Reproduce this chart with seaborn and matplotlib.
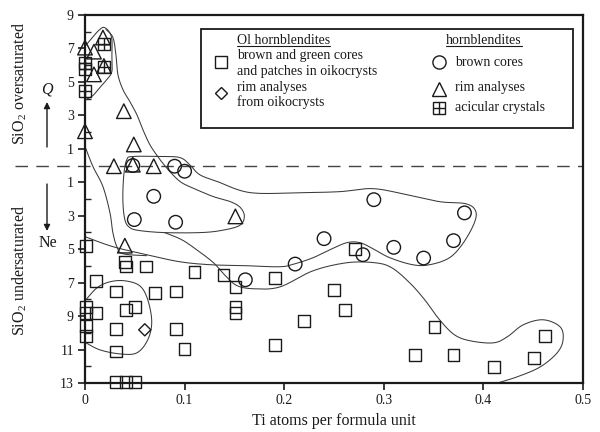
import numpy as np
import pandas as pd
import matplotlib
matplotlib.use("Agg")
import matplotlib.pyplot as plt
from matplotlib.patches import Rectangle
from matplotlib.lines import Line2D
import seaborn as sns

# ---------------------------------------------------------------------------
# Ti (atoms per formula unit) against silica saturation.
# Saturation is signed: Q (oversaturated) positive, Ne (undersaturated) negative.
# ---------------------------------------------------------------------------

# Ol hornblendites: brown and green cores and patches in oikocrysts (squares)
ol_core_ti = [0.001, 0.011, 0.031, 0.041, 0.040, 0.061, 0.070, 0.091, 0.041, 0.050,
              0.001, 0.011, 0.001, 0.001, 0.001, 0.031, 0.091, 0.100, 0.031, 0.031,
              0.041, 0.050, 0.110, 0.139, 0.151, 0.151, 0.151, 0.191, 0.191, 0.220,
              0.250, 0.261, 0.271, 0.331, 0.351, 0.370, 0.411, 0.451, 0.462]
ol_core_si = [-4.80, -6.90, -7.53, -6.03, -5.75, -6.03, -7.62, -7.53, -8.62, -8.46,
              -8.80, -8.80, -9.57, -10.20, -8.45, -9.76, -9.76, -10.96, -11.12, -12.95,
              -12.92, -12.95, -6.37, -6.53, -7.25, -8.44, -8.80, -6.71, -10.72, -9.28,
              -7.43, -8.62, -4.99, -11.32, -9.64, -11.32, -12.04, -11.50, -10.18]

# Ol hornblendites: rim analyses from oikocrysts (diamond)
ol_rim_ti = [0.060]
ol_rim_si = [-9.82]

# hornblendites: brown cores (circles)
hb_core_ti = [0.048, 0.090, 0.100, 0.069, 0.0495, 0.091, 0.240, 0.211, 0.161, 0.290,
              0.381, 0.370, 0.310, 0.340, 0.279]
hb_core_si = [0.00, -0.04, -0.34, -1.84, -3.23, -3.39, -4.37, -5.89, -6.83, -2.04,
              -2.83, -4.49, -4.89, -5.53, -5.33]

# hornblendites: rim analyses (triangles)
hb_rim_ti = [0.018, 0.000, 0.009, 0.019, 0.009, 0.039, 0.000, 0.049, 0.029, 0.069,
             0.048, 0.040, 0.151]
hb_rim_si = [7.65, 7.05, 6.81, 5.95, 5.45, 3.25, 2.05, 1.26, -0.04, -0.04,
             0.05, -4.79, -3.04]

# hornblendites: acicular crystals (crossed squares)
hb_acic_ti = [0.019, 0.019, 0.000, 0.000, 0.000]
hb_acic_si = [7.25, 5.89, 6.15, 5.75, 4.45]

# Hand-drawn field outlines (vertices in data units)
field_a_ti = [0.000, 0.010, 0.015, 0.019, 0.024, 0.027, 0.027, 0.027, 0.022, 0.015, 0.008, 0.001]
field_a_si = [7.13, 7.84, 8.14, 8.26, 8.02, 7.54, 6.65, 5.63, 5.15, 4.67, 4.19, 3.95]

field_b_ti = [0.021, 0.028, 0.031, 0.033, 0.038, 0.045, 0.052, 0.058, 0.065, 0.073,
              0.080, 0.087, 0.097, 0.112, 0.129, 0.146, 0.156, 0.160, 0.155, 0.136,
              0.115, 0.080, 0.055, 0.045, 0.040, 0.038, 0.039, 0.042, 0.048, 0.075,
              0.095, 0.105, 0.115, 0.133, 0.166, 0.216, 0.256, 0.289, 0.323, 0.356,
              0.382, 0.392, 0.391, 0.380, 0.366, 0.346, 0.329, 0.306, 0.289, 0.276,
              0.263, 0.246, 0.229, 0.211, 0.196, 0.163, 0.126, 0.095, 0.062, 0.028, 0.000]
field_b_si = [8.14, 7.66, 6.65, 5.45, 4.55, 3.83, 3.05, 2.16, 1.26, 0.54,
              0.00, -0.48, -1.02, -1.44, -1.86, -2.16, -2.51, -3.05, -3.59, -3.89,
              -4.01, -4.01, -3.89, -3.71, -3.23, -2.04, -0.54, 0.36, 0.54, 0.54,
              0.48, 0.06, -0.54, -0.96, -1.62, -1.62, -1.56, -1.38, -1.74, -2.16,
              -2.28, -2.69, -3.41, -4.61, -5.51, -5.93, -5.93, -5.51, -4.97, -4.61,
              -4.61, -5.03, -5.51, -5.87, -6.05, -5.99, -5.93, -5.75, -5.33, -4.85, -4.25]

field_c_ti = [0.080, 0.097, 0.112, 0.129, 0.141, 0.153, 0.171, 0.196, 0.229, 0.263,
              0.291, 0.308, 0.326, 0.341, 0.356, 0.371, 0.387, 0.410, 0.424, 0.440,
              0.460, 0.477, 0.480, 0.474, 0.457, 0.434, 0.414]
field_c_si = [-4.01, -4.43, -5.03, -5.81, -6.59, -7.19, -7.37, -7.25, -6.29, -5.81,
              -5.81, -6.11, -7.01, -8.02, -9.22, -10.12, -10.48, -10.60, -10.24, -9.52,
              -9.22, -9.64, -10.42, -11.20, -12.04, -12.63, -13.00]

field_d_ti = [0.000, 0.008, 0.018, 0.025, 0.028, 0.032, 0.038, 0.062]
field_d_si = [1.14, -0.06, -1.26, -2.81, -4.01, -4.85, -5.27, -5.39]

field_e_ti = [0.001, 0.012, 0.025, 0.040, 0.055, 0.063, 0.067, 0.063, 0.052, 0.035, 0.015, 0.001]
field_e_si = [-8.02, -7.31, -6.95, -6.89, -7.19, -8.02, -9.34, -10.42, -11.20, -11.26, -11.02, -10.60]

y_ticks = [9, 7, 5, 3, 1, -1, -3, -5, -7, -9, -11, -13]
y_tick_labels = [str(abs(v)) for v in y_ticks]
x_ticks = [0, 0.1, 0.2, 0.3, 0.4, 0.5]
x_tick_labels = ["0", "0.1", "0.2", "0.3", "0.4", "0.5"]


def smooth(xs, ys, n=14):
    """Catmull-Rom curve through the outline vertices."""
    p = np.column_stack([xs, ys]).astype(float)
    p = np.vstack([p[0], p, p[-1]])
    t = np.linspace(0, 1, n, endpoint=False)[:, None]
    segs = []
    for i in range(1, len(p) - 2):
        p0, p1, p2, p3 = p[i - 1], p[i], p[i + 1], p[i + 2]
        segs.append(0.5 * (2 * p1 + (-p0 + p2) * t
                           + (2 * p0 - 5 * p1 + 4 * p2 - p3) * t ** 2
                           + (-p0 + 3 * p1 - 3 * p2 + p3) * t ** 3))
    segs.append(p[-2][None])
    s = np.vstack(segs)
    return s[:, 0], s[:, 1]


sns.set_style("ticks")
plt.rcParams["font.family"] = ["Liberation Serif", "DejaVu Serif"]
plt.rcParams["mathtext.fontset"] = "custom"
plt.rcParams["mathtext.rm"] = "Liberation Serif"

W, H = 600, 432
fig = plt.figure(figsize=(6, 4.32), dpi=100)
ax = fig.add_axes([85 / W, 1 - 383 / H, 498 / W, 368 / H])


def fxy(X, Y):
    return X / W, 1 - Y / H


ink = "#1a1a1a"
line_col = "#3a3a3a"

# field outlines
for fx_, fy_ in [(field_a_ti, field_a_si), (field_b_ti, field_b_si),
                 (field_c_ti, field_c_si), (field_d_ti, field_d_si),
                 (field_e_ti, field_e_si)]:
    sx, sy = smooth(fx_, fy_)
    ax.plot(sx, sy, color=line_col, lw=0.75, clip_on=False, zorder=2)

# saturation boundary
ax.plot([-0.0703, 0.5], [0, 0], color="#444444", lw=1.0, dashes=(9, 6),
        clip_on=False, zorder=1)

mk = dict(facecolor="none", edgecolor=ink, linewidth=1.0, clip_on=False, zorder=3)
sns.scatterplot(x=ol_core_ti, y=ol_core_si, marker="s", s=72, ax=ax, **mk)
sns.scatterplot(x=ol_rim_ti, y=ol_rim_si, marker="D", s=38, ax=ax, **mk)
sns.scatterplot(x=hb_core_ti, y=hb_core_si, marker="o", s=95, ax=ax, **mk)
sns.scatterplot(x=hb_rim_ti, y=hb_rim_si, marker="^", s=110, ax=ax, **mk)
sns.scatterplot(x=hb_acic_ti, y=hb_acic_si, marker="s", s=72, ax=ax, **mk)
ax.scatter(hb_acic_ti, hb_acic_si, marker="+", s=72, color=ink, linewidth=1.0,
           clip_on=False, zorder=3)

ax.set_xlim(0, 0.5)
ax.set_ylim(-13, 9)
ax.set_xticks(x_ticks)
ax.set_xticklabels(x_tick_labels)
ax.set_yticks(y_ticks)
ax.set_yticklabels(y_tick_labels)
ax.set_yticks([8, 6, 4, 2, -2, -4, -6, -8, -10, -12], minor=True)
ax.tick_params(axis="both", which="major", direction="out", length=5, width=1.2,
               labelsize=10, colors=ink, pad=3)
ax.tick_params(axis="y", which="minor", direction="in", length=4, width=1.0)
for sp in ax.spines.values():
    sp.set_visible(True)
    sp.set_linewidth(1.6)
    sp.set_color(ink)
ax.set_xlabel("Ti atoms per formula unit", fontsize=11.5, color=ink, labelpad=4)
ax.set_ylabel("")

# side annotations
fig.text(*fxy(20, 83), r"SiO$_\mathrm{2}$ oversaturated", rotation=90, ha="center",
         va="center", fontsize=11.5, color=ink)
fig.text(*fxy(20, 270), r"SiO$_\mathrm{2}$ undersaturated", rotation=90, ha="center",
         va="center", fontsize=11.5, color=ink)
fig.text(*fxy(47, 90), "Q", ha="center", va="center", fontsize=11.5, style="italic",
         color=ink)
fig.text(*fxy(48, 243), "Ne", ha="center", va="center", fontsize=11.5, color=ink)
arrow = dict(arrowstyle="-|>", lw=1.0, color=ink, mutation_scale=9,
             shrinkA=0, shrinkB=0)
ax.annotate("", xy=fxy(47, 102), xytext=fxy(47, 147), xycoords="figure fraction",
            textcoords="figure fraction", arrowprops=arrow)
ax.annotate("", xy=fxy(47, 231), xytext=fxy(47, 184), xycoords="figure fraction",
            textcoords="figure fraction", arrowprops=arrow)

# key
x0, y0 = fxy(201, 128)
x1, y1 = fxy(573, 29)
fig.add_artist(Rectangle((x0, y0), x1 - x0, y1 - y0, transform=fig.transFigure,
                         fill=False, edgecolor=ink, lw=1.3, zorder=5))

key_fs = 10
heads = []
heads.append(fig.text(*fxy(237, 40), "Ol hornblendites", fontsize=key_fs, va="center",
                      color=ink))
heads.append(fig.text(*fxy(446, 40), "hornblendites", fontsize=key_fs, va="center",
                      color=ink))
fig.text(*fxy(237, 55), "brown and green cores", fontsize=key_fs, va="center", color=ink)
fig.text(*fxy(237, 71), "and patches in oikocrysts", fontsize=key_fs, va="center", color=ink)
fig.text(*fxy(237, 87), "rim analyses", fontsize=key_fs, va="center", color=ink)
fig.text(*fxy(237, 102), "from oikocrysts", fontsize=key_fs, va="center", color=ink)
fig.text(*fxy(455, 62), "brown cores", fontsize=key_fs, va="center", color=ink)
fig.text(*fxy(455, 88), "rim analyses", fontsize=key_fs, va="center", color=ink)
fig.text(*fxy(455, 108), "acicular crystals", fontsize=key_fs, va="center", color=ink)


def key_marker(X, Y, marker, ms):
    fig.add_artist(Line2D([X / W], [1 - Y / H], transform=fig.transFigure,
                          marker=marker, ms=ms, mfc="none", mec=ink, mew=1.0,
                          linestyle="none", color=ink))


key_marker(221, 62, "s", 8.5)
key_marker(221, 93, "D", 6.2)
key_marker(439, 62, "o", 9.5)
key_marker(439, 89, "^", 10)
key_marker(439, 108, "s", 8.5)
key_marker(439, 108, "+", 8.5)

fig.canvas.draw()
r = fig.canvas.get_renderer()
for t in heads:
    bb = t.get_window_extent(r).transformed(fig.transFigure.inverted())
    fig.add_artist(Line2D([bb.x0, bb.x1], [bb.y0 + 0.002, bb.y0 + 0.002],
                          transform=fig.transFigure, color=ink, lw=0.8))

fig.savefig("out.png", dpi=100, facecolor="white")
